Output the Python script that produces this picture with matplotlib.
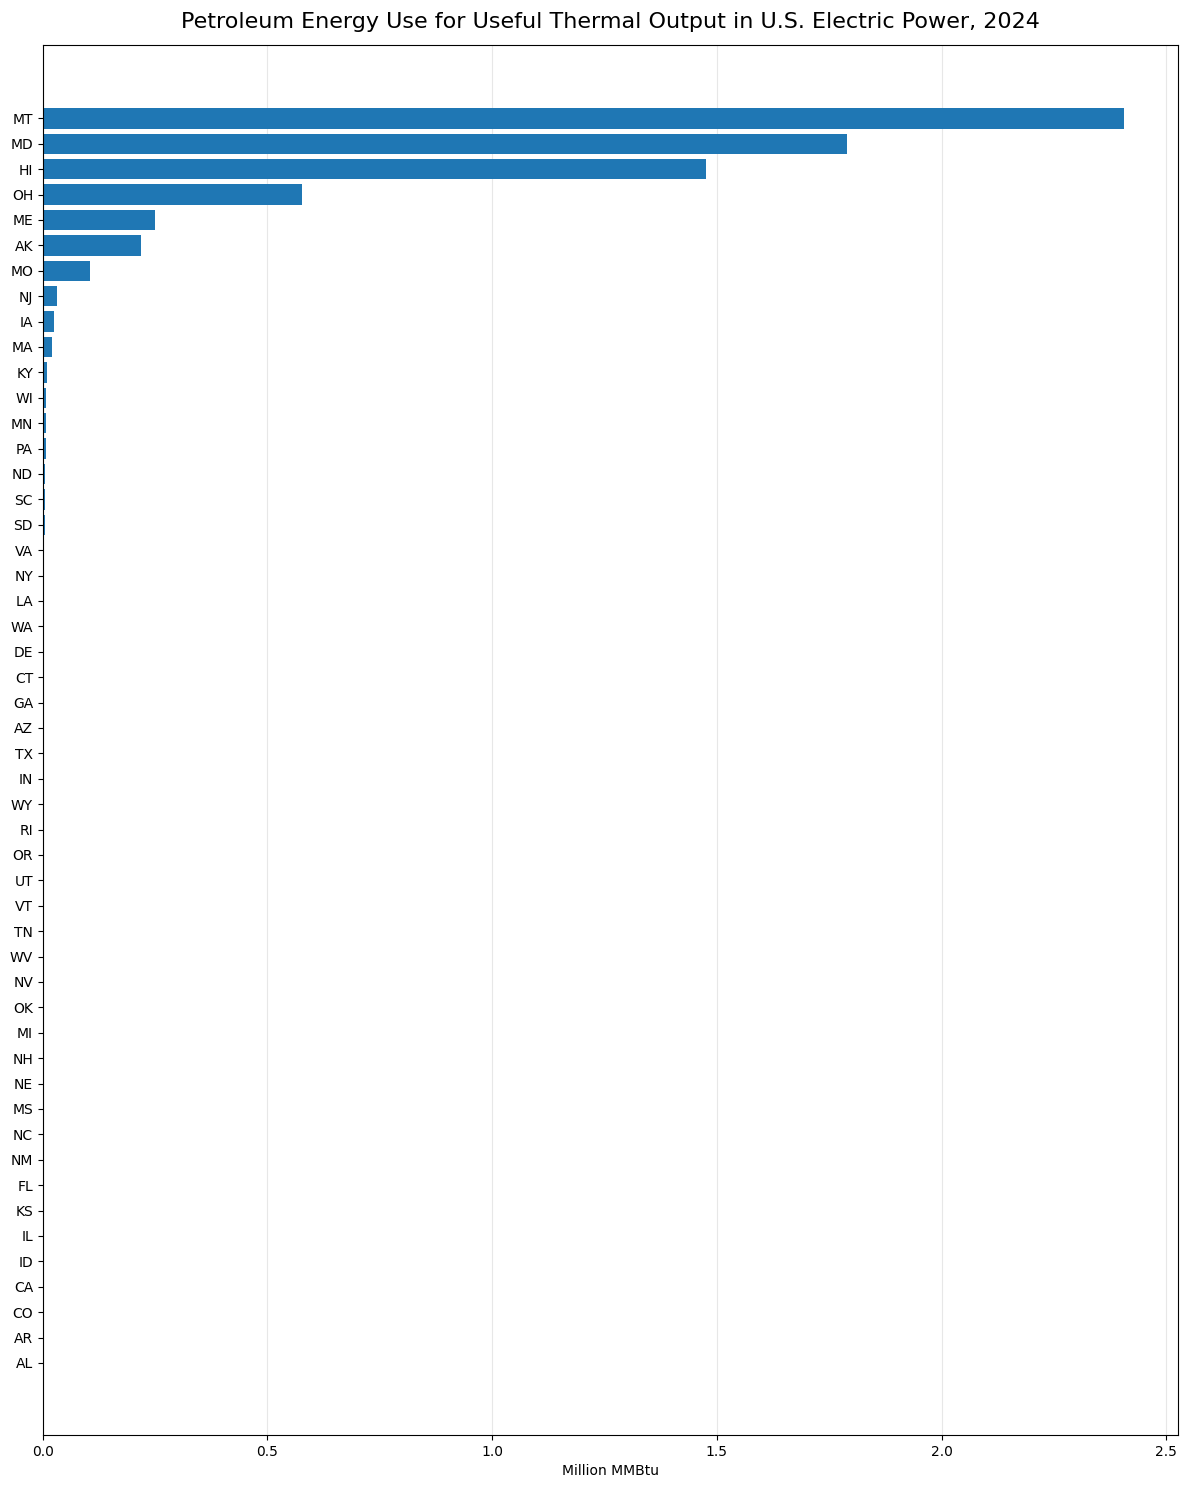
import matplotlib
matplotlib.use("Agg")
import matplotlib.pyplot as plt

states = ["MT","MD","HI","OH","ME","AK","MO","NJ","IA","MA","KY","WI","MN","PA","ND","SC","SD",
          "VA","NY","LA","WA","DE","CT","GA","AZ","TX","IN","WY","RI","OR","UT","VT","TN","WV",
          "NV","OK","MI","NH","NE","MS","NC","NM","FL","KS","IL","ID","CA","CO","AR","AL"]
values = [2.405,1.79,1.475,0.577,0.25,0.218,0.105,0.032,0.024,0.021,0.01,0.008,0.007,0.007,0.005,0.004,0.004,
          0.0008,0.0006,0.0005,0.0004,0.0003,0.0003,0.0002,0.0002,0.0002,0.0001,0.0001,0.0001,0.0001,0.0001,0.0001,0.0001,0.0001,
          0.0,0.0,0.0,0.0,0.0,0.0,0.0,0.0,0.0,0.0,0.0,0.0,0.0,0.0,0.0,0.0]

fig, ax = plt.subplots(figsize=(11.88, 14.9), dpi=100)
fig.subplots_adjust(left=0.036, right=0.992, top=0.97, bottom=0.037)
s = states[::-1]; v = values[::-1]
ax.barh(range(len(s)), v, color="#1f77b4", height=0.8)
ax.set_yticks(range(len(s)))
ax.set_yticklabels(s)
ax.set_ylim(-2.83, len(s) - 1 + 2.9)
ax.set_xlim(0, 2.527)
ax.xaxis.grid(True, alpha=0.3)
ax.set_axisbelow(True)
ax.set_xlabel("Million MMBtu")
ax.set_title("Petroleum Energy Use for Useful Thermal Output in U.S. Electric Power, 2024", fontsize=16, pad=12)
fig.savefig("out.png", dpi=100)
